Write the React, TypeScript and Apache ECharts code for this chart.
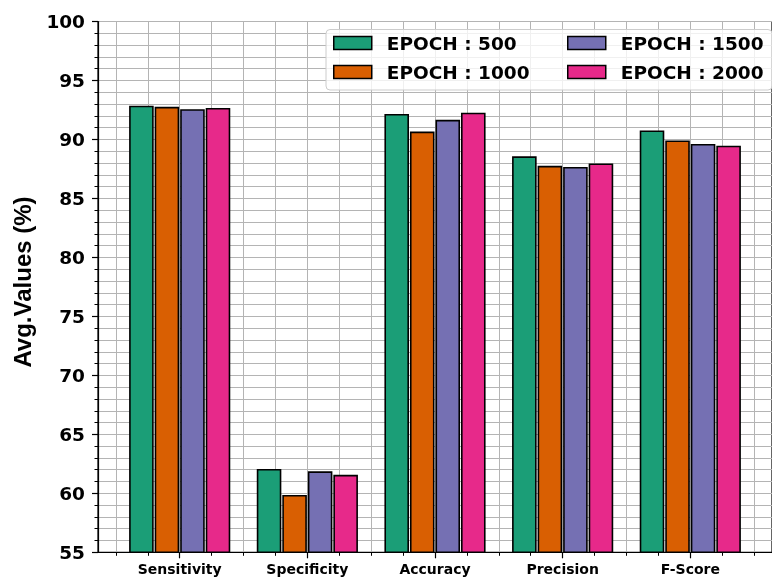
import React, { useEffect, useRef } from "react";
import * as echarts from "echarts";

// Metric groups along the x axis
const categories = ["Sensitivity", "Specificity", "Accuracy", "Precision", "F-Score"];

// Average values (%) per training length
const seriesNames = ["EPOCH : 500", "EPOCH : 1000", "EPOCH : 1500", "EPOCH : 2000"];
const epoch500 = [92.8, 62.0, 92.1, 88.5, 90.7];
const epoch1000 = [92.7, 59.8, 90.6, 87.7, 89.85];
const epoch1500 = [92.5, 61.8, 91.6, 87.6, 89.55];
const epoch2000 = [92.6, 61.5, 92.2, 87.9, 89.4];
const seriesValues = [epoch500, epoch1000, epoch1500, epoch2000];

const colors = ["#1b9e77", "#d95f02", "#7570b3", "#e7298a"];

// Axis ranges and tick positions
const Y_MIN = 55;
const Y_MAX = 100;
const Y_MAJOR = 5;
const X_MIN = -0.64;
const X_MAX = 4.64;
const xMajorTicks = [0, 1, 2, 3, 4];
const xMinorTicks = [
  -0.5, -0.25, 0, 0.25, 0.5, 0.75, 1, 1.25, 1.5, 1.75, 2, 2.25, 2.5, 2.75,
  3, 3.25, 3.5, 3.75, 4, 4.25, 4.5,
];

const SLOT = 0.2; // distance between bar centres, in category units
const BAR_W = 0.18; // drawn width of each bar, in category units

const GRID_COLOR = "#b4b4b4";
const FONT = '"DejaVu Sans", Verdana, sans-serif';

export default function App() {
  const ref = useRef<HTMLDivElement>(null);

  useEffect(() => {
    if (!ref.current) return;
    const chart = echarts.init(ref.current, null, { renderer: "svg" });

    const series = seriesValues.map((vals, si) => {
      const offset = (si - 1.5) * SLOT;
      return {
        name: seriesNames[si],
        type: "custom",
        xAxisIndex: 0,
        yAxisIndex: 0,
        z: 2,
        itemStyle: { color: colors[si], borderColor: "#000", borderWidth: 1.5 },
        encode: { x: 0, y: 1 },
        data: vals.map((v, ci) => [ci, v]),
        renderItem: (params: any, api: any) => {
          const c = api.value(0) as number;
          const v = api.value(1) as number;
          const topLeft = api.coord([c + offset - BAR_W / 2, v]);
          const botRight = api.coord([c + offset + BAR_W / 2, Y_MIN]);
          return {
            type: "rect",
            shape: {
              x: topLeft[0],
              y: topLeft[1],
              width: botRight[0] - topLeft[0],
              height: botRight[1] - topLeft[1],
            },
            style: { fill: colors[si], stroke: "#000", lineWidth: 1.6 },
          };
        },
      };
    });

    const legendText = {
      fontFamily: FONT,
      fontWeight: "bold" as const,
      fontSize: 18.5,
      color: "#000",
      lineHeight: 20,
      padding: [0, 0, 0, 10],
    };
    const legendItem = (i: number) => ({
      name: seriesNames[i],
      icon: "rect",
      itemStyle: { color: colors[i], borderColor: "#000", borderWidth: 1.5 },
    });
    const legendBase = {
      orient: "vertical",
      top: 33,
      padding: 0,
      itemWidth: 38,
      itemHeight: 13,
      itemGap: 9,
      textStyle: legendText,
      selectedMode: false,
    };

    chart.setOption({
      animation: false,
      textStyle: { fontFamily: FONT },
      grid: {
        left: 98,
        right: -10.2,
        top: 21.5,
        bottom: 26.7,
        show: true,
        borderColor: "#000",
        borderWidth: 1.2,
        backgroundColor: "transparent",
      },
      legend: [
        { ...legendBase, data: [legendItem(0), legendItem(1)], left: 333 },
        { ...legendBase, data: [legendItem(2), legendItem(3)], left: 567 },
      ],
      xAxis: [
        {
          type: "value",
          min: X_MIN,
          max: X_MAX,
          position: "bottom",
          axisLine: { show: true, onZero: false, lineStyle: { color: "#000", width: 1.2 } },
          axisTick: {
            show: true,
            customValues: xMinorTicks,
            length: 3.5,
            lineStyle: { color: "#000", width: 1 },
          },
          axisLabel: { show: false },
          splitLine: { show: true, lineStyle: { color: GRID_COLOR, width: 1 } },
        },
        {
          type: "value",
          min: X_MIN,
          max: X_MAX,
          position: "bottom",
          axisLine: { show: false },
          axisTick: {
            show: true,
            customValues: xMajorTicks,
            length: 6,
            lineStyle: { color: "#000", width: 1.2 },
          },
          axisLabel: {
            show: true,
            customValues: xMajorTicks,
            formatter: (v: number) => categories[Math.round(v)] ?? "",
            fontFamily: FONT,
            fontWeight: "bold",
            fontSize: 14,
            color: "#000",
            margin: 10,
          },
          splitLine: { show: false },
        },
      ],
      yAxis: {
        type: "value",
        min: Y_MIN,
        max: Y_MAX,
        interval: Y_MAJOR,
        axisLine: { show: true, onZero: false, lineStyle: { color: "#000", width: 1.2 } },
        axisTick: { show: true, length: 6, lineStyle: { color: "#000", width: 1.2 } },
        minorTick: { show: true, splitNumber: 5, length: 3.5, lineStyle: { color: "#000", width: 1 } },
        splitLine: { show: true, lineStyle: { color: GRID_COLOR, width: 1 } },
        minorSplitLine: { show: true, lineStyle: { color: GRID_COLOR, width: 1 } },
        axisLabel: {
          fontFamily: FONT,
          fontWeight: "bold",
          fontSize: 18.5,
          color: "#000",
          margin: 13,
        },
      },
      graphic: [
        {
          type: "rect",
          z: 3,
          shape: { x: 326, y: 29.5, width: 446, height: 60.5, r: 4 },
          style: { fill: "rgba(255,255,255,0.8)", stroke: "#cccccc", lineWidth: 1 },
        },
        {
          type: "text",
          x: 22,
          y: 282,
          rotation: Math.PI / 2,
          style: {
            text: "Avg.Values (%)",
            font: 'bold 24px "Liberation Sans", Arial, sans-serif',
            fill: "#000",
            align: "center",
            verticalAlign: "middle",
          },
        },
      ],
      series,
    });

    return () => chart.dispose();
  }, []);

  return (
    <div
      ref={ref}
      style={{ position: "fixed", left: 0, top: 0, width: 772, height: 579, overflow: "hidden" }}
    />
  );
}
